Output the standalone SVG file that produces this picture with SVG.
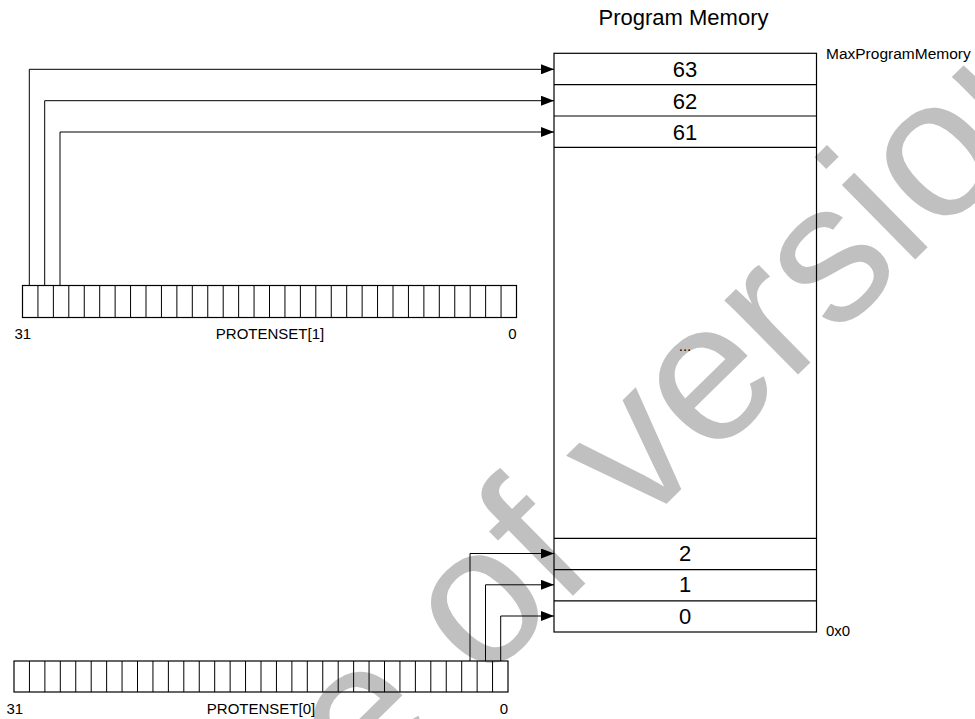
<svg xmlns="http://www.w3.org/2000/svg" width="975" height="719" viewBox="0 0 975 719">
<style>
text{font-family:"Liberation Sans",Arial,sans-serif;fill:#000}
.sm{font-size:15px}
.big{font-size:22px}
.box{fill:none;stroke:#000;stroke-width:1.2}
.ln{fill:none;stroke:#000;stroke-width:1}
.wm{font-size:198px;fill:#c0c0c0}
</style>
<defs>
<marker id="ah" markerUnits="userSpaceOnUse" markerWidth="13" markerHeight="10" refX="13" refY="5" orient="auto">
<path d="M0,0 L13,5 L0,10 z" fill="#000"/>
</marker>
</defs>
<rect width="975" height="719" fill="#fff"/>
<text class="wm" transform="translate(364.2,800.9) rotate(-44.5)">e of version</text>
<g id="title"><text class="big" x="683.5" y="24.5" text-anchor="middle">Program Memory</text></g>
<g id="memory">
<rect class="box" x="554" y="53.3" width="262.5" height="578.7"/>
<path class="box" d="M554,84.7H816.5M554,116H816.5M554,147.3H816.5M554,538.3H816.5M554,569.6H816.5M554,600.9H816.5"/>
<text class="big" x="685" y="77.3" text-anchor="middle">63</text>
<text class="big" x="685" y="108.7" text-anchor="middle">62</text>
<text class="big" x="685" y="140" text-anchor="middle">61</text>
<text class="sm" x="685" y="351" text-anchor="middle">...</text>
<text class="big" x="685" y="561" text-anchor="middle">2</text>
<text class="big" x="685" y="592.3" text-anchor="middle">1</text>
<text class="big" x="685" y="623.5" text-anchor="middle">0</text>
<text class="sm" x="826" y="58.5" style="font-size:15.5px">MaxProgramMemory</text>
<text class="sm" x="826" y="636">0x0</text>
</g>
<g id="protenset1">
<rect class="box" x="22.5" y="285.5" width="494" height="32"/>
<path class="ln" d="M37.94,285.5v32M53.38,285.5v32M68.81,285.5v32M84.25,285.5v32M99.69,285.5v32M115.13,285.5v32M130.56,285.5v32M146,285.5v32M161.44,285.5v32M176.88,285.5v32M192.31,285.5v32M207.75,285.5v32M223.19,285.5v32M238.63,285.5v32M254.06,285.5v32M269.5,285.5v32M284.94,285.5v32M300.38,285.5v32M315.81,285.5v32M331.25,285.5v32M346.69,285.5v32M362.13,285.5v32M377.56,285.5v32M393,285.5v32M408.44,285.5v32M423.88,285.5v32M439.31,285.5v32M454.75,285.5v32M470.19,285.5v32M485.63,285.5v32M501.06,285.5v32"/>
<text class="sm" x="14.5" y="339">31</text>
<text class="sm" x="270" y="339" text-anchor="middle">PROTENSET[1]</text>
<text class="sm" x="516.7" y="339" text-anchor="end">0</text>
</g>
<g id="protenset0">
<rect class="box" x="14" y="661" width="494" height="31"/>
<path class="ln" d="M29.44,661v31M44.88,661v31M60.31,661v31M75.75,661v31M91.19,661v31M106.63,661v31M122.06,661v31M137.5,661v31M152.94,661v31M168.38,661v31M183.81,661v31M199.25,661v31M214.69,661v31M230.13,661v31M245.56,661v31M261,661v31M276.44,661v31M291.88,661v31M307.31,661v31M322.75,661v31M338.19,661v31M353.63,661v31M369.06,661v31M384.5,661v31M399.94,661v31M415.38,661v31M430.81,661v31M446.25,661v31M461.69,661v31M477.13,661v31M492.56,661v31"/>
<text class="sm" x="6.5" y="714">31</text>
<text class="sm" x="261" y="714" text-anchor="middle">PROTENSET[0]</text>
<text class="sm" x="508" y="714" text-anchor="end">0</text>
</g>
<g id="connectors">
<path class="ln" marker-end="url(#ah)" d="M29.3,285.5V69.3H554"/>
<path class="ln" marker-end="url(#ah)" d="M44.7,285.5V100.7H554"/>
<path class="ln" marker-end="url(#ah)" d="M60,285.5V132H554"/>
<path class="ln" marker-end="url(#ah)" d="M470,661V553.5H554"/>
<path class="ln" marker-end="url(#ah)" d="M485.5,661V584.8H554"/>
<path class="ln" marker-end="url(#ah)" d="M500.7,661V616H554"/>
</g>
</svg>
